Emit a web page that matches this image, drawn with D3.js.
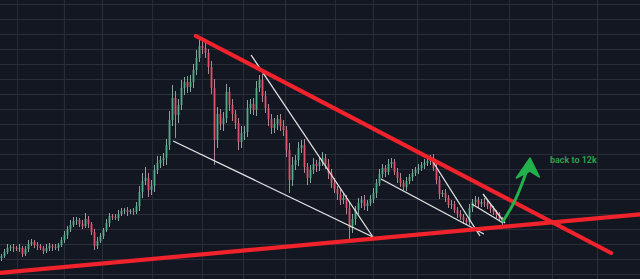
<!DOCTYPE html>
<html>
<head>
<meta charset="utf-8">
<script src="https://d3js.org/d3.v7.min.js"></script>
<style>
    body { margin: 0; background: #131722; }
    svg { display: block; }
</style>
</head>
<body>
<svg width="640" height="279"></svg>
<script>
// **** price data (arbitrary price units) ****
// closes, one per candle; the open of a candle is the previous close
var closes = [
    2.3, 2.7, 3.1, 3.2, 3.1, 3.0, 3.1, 2.5, 3.0, 3.5,
    3.7, 3.4, 3.3, 3.1, 2.8, 3.1, 3.3, 3.2, 3.1, 3.4,
    3.9, 4.4, 5.0, 5.4, 5.8, 5.9, 5.5, 5.3, 6.0, 5.5,
    4.7, 3.3, 3.8, 4.3, 4.9, 5.6, 6.3, 6.2, 6.1, 6.5,
    6.8, 6.9, 6.7, 6.8, 6.7, 7.3, 8.7, 9.8, 10.1, 8.9,
    9.3, 10.9, 11.6, 11.9, 12.1, 13.4, 15.9, 18.1, 16.4, 17.4,
    19.1, 19.7, 19.2, 19.7, 20.9, 22.1, 23.3, 23.1, 22.6, 21.2,
    19.1, 13.9, 16.5, 15.5, 16.1, 18.7, 17.4, 16.5, 15.6, 13.7,
    14.6, 14.7, 17.1, 17.5, 16.9, 19.1, 19.9, 18.3, 17.1, 16.0,
    15.1, 15.5, 16.0, 15.3, 14.9, 12.9, 9.9, 11.4, 11.9, 13.1,
    13.4, 11.2, 10.1, 10.9, 11.5, 11.3, 11.7, 12.1, 11.5, 10.6,
    9.6, 9.0, 8.5, 7.9, 8.1, 7.1, 5.1, 6.0, 6.9, 7.6,
    7.9, 7.3, 7.6, 8.0, 8.6, 9.6, 10.5, 11.1, 10.7, 11.5,
    11.7, 10.7, 10.1, 9.6, 9.2, 9.8, 10.2, 10.6, 10.9, 11.1,
    11.4, 11.6, 11.8, 12.1, 11.1, 9.9, 8.5, 8.6, 8.1, 7.4,
    7.5, 6.9, 6.5, 6.2, 5.9, 5.7, 7.1, 7.7, 7.9, 7.5,
    7.7, 7.6, 7.3, 7.0, 6.7, 6.4, 6.0, 5.7
];
var firstOpen = 2.1;

// upper / lower wick lengths beyond the body
var wickUp = [
    0.2, 0.3, 0.4, 0.2, 0.3, 0.2, 0.4, 0.2, 0.3, 0.4,
    0.3, 0.2, 0.3, 0.2, 0.2, 0.4, 0.3, 0.2, 0.3, 0.2,
    0.3, 0.4, 0.3, 0.5, 0.4, 0.3, 0.2, 0.4, 0.6, 0.3,
    0.2, 0.3, 0.4, 0.3, 0.2, 0.4, 0.3, 0.2, 0.3, 0.4,
    0.3, 0.2, 0.3, 0.2, 0.3, 0.4, 0.6, 0.8, 1.1, 0.5,
    0.6, 0.5, 0.7, 0.4, 0.5, 0.6, 0.9, 1.3, 0.7, 0.6,
    0.8, 0.5, 0.6, 0.7, 0.6, 0.8, 0.6, 0.5, 0.7, 0.4,
    0.6, 0.9, 0.7, 0.5, 0.6, 0.8, 0.5, 0.6, 0.4, 0.5,
    0.7, 0.6, 0.8, 0.5, 0.6, 0.7, 0.5, 0.6, 0.5, 0.4,
    0.5, 0.6, 0.4, 0.5, 0.6, 0.4, 0.7, 0.8, 0.5, 0.6,
    0.5, 0.6, 0.4, 0.5, 0.6, 0.4, 0.5, 0.6, 0.4, 0.5,
    0.4, 0.5, 0.3, 0.5, 0.4, 0.3, 0.6, 0.5, 0.4, 0.5,
    0.4, 0.5, 0.3, 0.4, 0.5, 0.4, 0.5, 0.4, 0.3, 0.5,
    0.4, 0.3, 0.4, 0.5, 0.3, 0.4, 0.3, 0.4, 0.3, 0.4,
    0.3, 0.4, 0.3, 0.3, 0.4, 0.5, 0.4, 0.3, 0.4, 0.3,
    0.4, 0.3, 0.3, 0.4, 0.3, 0.2, 0.4, 0.3, 0.4, 0.3,
    0.3, 0.4, 0.3, 0.2, 0.3, 0.2, 0.3, 0.2
];
var wickDown = [
    0.3, 0.2, 0.2, 0.3, 0.4, 0.2, 0.3, 0.3, 0.2, 0.3,
    0.2, 0.3, 0.4, 0.2, 0.3, 0.2, 0.3, 0.4, 0.2, 0.3,
    0.2, 0.3, 0.4, 0.3, 0.2, 0.4, 0.3, 0.3, 0.2, 0.4,
    0.3, 0.4, 0.3, 0.2, 0.3, 0.2, 0.4, 0.3, 0.2, 0.3,
    0.2, 0.3, 0.4, 0.2, 0.3, 0.2, 0.5, 0.6, 0.4, 0.7,
    0.5, 0.6, 0.4, 0.5, 0.6, 0.7, 0.5, 0.6, 2.3, 0.8,
    0.5, 0.7, 0.6, 0.5, 0.6, 0.5, 0.4, 0.6, 0.5, 0.7,
    0.6, 2.5, 0.8, 0.6, 0.7, 0.5, 0.6, 0.7, 0.6, 0.8,
    0.6, 0.7, 0.5, 0.6, 0.5, 0.6, 0.4, 0.6, 0.5, 0.7,
    0.6, 0.5, 0.6, 0.5, 0.6, 0.7, 1.3, 0.6, 0.5, 0.6,
    0.5, 0.6, 0.7, 0.5, 0.4, 0.6, 0.5, 0.4, 0.5, 0.6,
    0.5, 0.4, 0.6, 0.5, 0.4, 0.6, 1.2, 0.5, 0.6, 0.4,
    0.5, 0.4, 0.5, 0.3, 0.4, 0.5, 0.3, 0.4, 0.5, 0.3,
    0.4, 0.3, 0.5, 0.4, 0.3, 0.4, 0.3, 0.4, 0.3, 0.4,
    0.3, 0.4, 0.3, 0.4, 0.3, 0.4, 0.5, 0.3, 0.4, 0.3,
    0.4, 0.3, 0.4, 0.3, 0.4, 0.3, 0.3, 0.4, 0.3, 0.4,
    0.3, 0.4, 0.3, 0.4, 0.3, 0.3, 0.2, 0.3
];

// grid positions (candle index / price)
var xGridTicks = [5.2, 20.8, 33.5, 50.2, 66.8, 80.5, 94.5, 111.2, 123.8, 138.5, 156.2, 169.2, 183.5, 198.5];
var yGridTicks = d3.range(0.5, 28, 1.5);

// drawn trend lines: [[index, price], [index, price]]
var redLines = [
    [[64.8, 24.3], [203.2, 2.6]],
    [[-1, 0.6], [214, 6.5]]
];
var whiteLines = [
    [[57.2, 13.8], [123.8, 4.2]],
    [[83.2, 22.4], [123.8, 4.2]],
    [[126.5, 10.0], [160.8, 4.5]],
    [[142.8, 12.2], [159.5, 4.3]],
    [[156.8, 7.5], [167.2, 5.6]],
    [[160.5, 8.5], [167.8, 5.6]]
];
var arrowCurve = [[167.2, 5.8], [171.0, 7.6], [174.0, 9.9], [176.0, 11.6]];
var arrowHead = [[171.6, 10.1], [176.2, 12.1], [179.3, 10.2], [176.1, 10.8]];
var label = {text: 'back to 12k', index: 182.8, price: 11.6};

var svg = d3.select('svg');
var svgWidth = +svg.attr('width');
var svgHeight = +svg.attr('height');

var xScale = d3.scaleLinear().domain([-0.5, 212.83]).range([0, svgWidth]);
var yScale = d3.scaleLinear().domain([0, 27.9]).range([svgHeight, 0]);

// background
svg.append('rect').attr('width', svgWidth).attr('height', svgHeight).attr('fill', '#131722');

// grid through the axes
svg.append('g').attr('class', 'grid')
    .call(d3.axisBottom(xScale).tickValues(xGridTicks).tickSize(svgHeight).tickFormat(''))
    .call(g => g.select('.domain').remove())
    .selectAll('line').attr('stroke', '#2a2e39');
svg.append('g').attr('class', 'grid')
    .attr('transform', 'translate(' + svgWidth + ',0)')
    .call(d3.axisLeft(yScale).tickValues(yGridTicks).tickSize(svgWidth).tickFormat(''))
    .call(g => g.select('.domain').remove())
    .selectAll('line').attr('stroke', '#2a2e39');

// build candles
var candles = closes.map(function(c, i) {
    var o = i === 0 ? firstOpen : closes[i - 1];
    return {i: i, o: o, c: c, h: Math.max(o, c) + wickUp[i], l: Math.min(o, c) - wickDown[i]};
});

var upColor = '#4fae88', downColor = '#e2506a';
var cGroup = svg.append('g').attr('class', 'candles');
cGroup.selectAll('.wick')
    .data(candles).enter().append('line')
    .attr('x1', d => xScale(d.i)).attr('x2', d => xScale(d.i))
    .attr('y1', d => yScale(d.h)).attr('y2', d => yScale(d.l))
    .attr('stroke', d => d.c >= d.o ? '#a9cbbb' : '#d9a3ad')
    .attr('stroke-width', 0.8);
cGroup.selectAll('.body')
    .data(candles).enter().append('rect')
    .attr('x', d => xScale(d.i) - 0.9)
    .attr('width', 1.8)
    .attr('y', d => yScale(Math.max(d.o, d.c)))
    .attr('height', d => Math.max(0.8, Math.abs(yScale(d.o) - yScale(d.c))))
    .attr('fill', d => d.c >= d.o ? upColor : downColor);

var line = d3.line().x(d => xScale(d[0])).y(d => yScale(d[1]));

svg.selectAll('.white-line')
    .data(whiteLines).enter().append('path')
    .attr('d', line)
    .attr('fill', 'none')
    .attr('stroke', '#e6e6e6')
    .attr('stroke-width', 1.3);

svg.selectAll('.red-line')
    .data(redLines).enter().append('path')
    .attr('d', line)
    .attr('fill', 'none')
    .attr('stroke', '#f0222b')
    .attr('stroke-width', 4.2)
    .attr('stroke-linecap', 'round');

// green arrow
var curve = d3.line().x(d => xScale(d[0])).y(d => yScale(d[1])).curve(d3.curveBasis);
svg.append('path')
    .attr('d', curve(arrowCurve))
    .attr('fill', 'none')
    .attr('stroke', '#22b14c')
    .attr('stroke-width', 3)
    .attr('stroke-linecap', 'round');
svg.append('path')
    .attr('d', line(arrowHead) + 'Z')
    .attr('fill', '#22b14c')
    .attr('stroke', '#22b14c')
    .attr('stroke-width', 1.5)
    .attr('stroke-linejoin', 'round');

svg.append('text')
    .attr('x', xScale(label.index))
    .attr('y', yScale(label.price))
    .attr('fill', '#2aa84a')
    .attr('font-family', 'Roboto, sans-serif')
    .attr('font-size', 9)
    .attr('font-weight', 600)
    .text(label.text);
</script>
</body>
</html>
